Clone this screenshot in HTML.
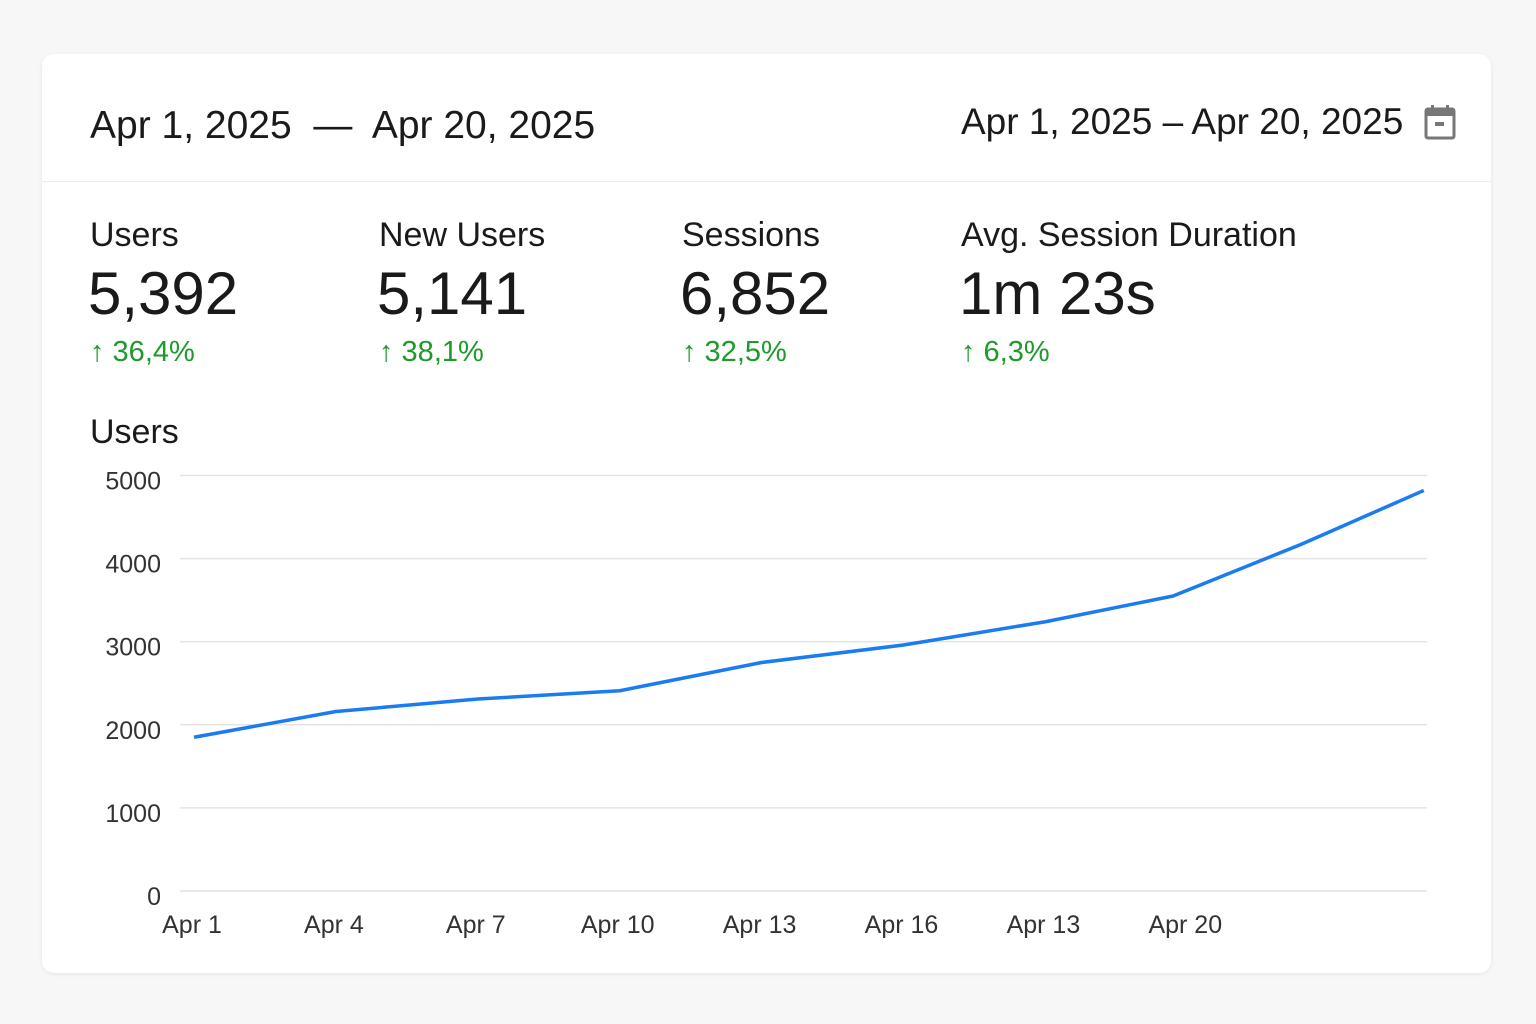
<!DOCTYPE html>
<html><head><meta charset="utf-8">
<style>
html,body{margin:0;padding:0;width:1536px;height:1024px;background:#f7f7f7;overflow:hidden;font-family:"Liberation Sans",sans-serif;color:#1a1a1a}
.card{position:absolute;left:42px;top:54px;width:1449px;height:919px;background:#fff;border-radius:12px;box-shadow:0 1px 4px rgba(0,0,0,0.08)}
.t{position:absolute;white-space:nowrap;line-height:1}
.divider{position:absolute;left:42px;top:181px;width:1449px;height:1px;background:#ececec}
.lbl{font-size:34px}
.val{font-size:60px}
.chg{font-size:29px;color:#1e9a2a}
</style></head><body>
<div class="card"></div>
<div class="t" style="left:90px;top:106px;font-size:39px">Apr 1, 2025 &nbsp;—&nbsp; Apr 20, 2025</div>
<div class="t" style="left:961px;top:103px;font-size:37px">Apr 1, 2025 – Apr 20, 2025</div>
<svg style="position:absolute;left:1424px;top:104px" width="32" height="36" viewBox="0 0 32 36">
<rect x="2" y="5" width="28" height="29" rx="2" fill="none" stroke="#777" stroke-width="3"/>
<rect x="2" y="5" width="28" height="7" fill="#777"/>
<rect x="7" y="1" width="3" height="6" fill="#777"/><rect x="22" y="1" width="3" height="6" fill="#777"/>
<rect x="11" y="18" width="9" height="4" fill="#777"/>
</svg>
<div class="divider"></div>

<div>
<div class="t lbl" style="left:90px;top:218px">Users</div>
<div class="t val" style="left:88px;top:264px">5,392</div>
<div class="t chg" style="left:90px;top:338px">↑ 36,4%</div></div>
<div>
<div class="t lbl" style="left:379px;top:218px">New Users</div>
<div class="t val" style="left:377px;top:264px">5,141</div>
<div class="t chg" style="left:379px;top:338px">↑ 38,1%</div></div>
<div>
<div class="t lbl" style="left:682px;top:218px">Sessions</div>
<div class="t val" style="left:680px;top:264px">6,852</div>
<div class="t chg" style="left:682px;top:338px">↑ 32,5%</div></div>
<div>
<div class="t lbl" style="left:961px;top:218px">Avg. Session Duration</div>
<div class="t val" style="left:959px;top:264px">1m 23s</div>
<div class="t chg" style="left:961px;top:338px">↑ 6,3%</div></div>

<div class="t lbl" style="left:90px;top:415px">Users</div>
<svg id="chart" style="position:absolute;left:0;top:0" width="1536" height="1024"></svg>
<script>
const days = [1, 4, 7, 10, 13, 16, 19, 21.7, 24.4, 27];
const users = [1850, 2160, 2310, 2410, 2750, 2960, 3240, 3550, 4170, 4820];
const yTicks = [0, 1000, 2000, 3000, 4000, 5000];
const xTickDays = [1, 4, 7, 10, 13, 16, 19, 22];
const xTickLabels = ["Apr 1", "Apr 4", "Apr 7", "Apr 10", "Apr 13", "Apr 16", "Apr 13", "Apr 20"];
const NS = "http://www.w3.org/2000/svg";
const svg = document.getElementById("chart");
const x = d => 194 + (d - 1) * 47.3;
const y = v => 891 - v * 0.0831;
function mk(tag, attrs){const e=document.createElementNS(NS,tag);for(const k in attrs)e.setAttribute(k,attrs[k]);svg.appendChild(e);return e;}
yTicks.forEach(v=>{
  const l=mk("line",{x1:180,x2:1427,y1:y(v),y2:y(v),stroke:"#e4e4e4","stroke-width":1.5});
  
  
  const t=mk("text",{x:161,y:y(v)+14,"text-anchor":"end","font-size":25,fill:"#333","font-family":"Liberation Sans, sans-serif"});
  t.textContent=v;
  
  
});
xTickDays.forEach((d,i)=>{
  const t=mk("text",{x:x(d)-2,y:933,"text-anchor":"middle","font-size":25,fill:"#333","font-family":"Liberation Sans, sans-serif"});
  t.textContent=xTickLabels[i];
  
  
});
const p=mk("polyline",{points:days.map((d,i)=>x(d)+","+y(users[i])).join(" "),fill:"none",stroke:"#1a7cf0","stroke-width":3.5,"stroke-linejoin":"round"});


</script>
</body></html>
